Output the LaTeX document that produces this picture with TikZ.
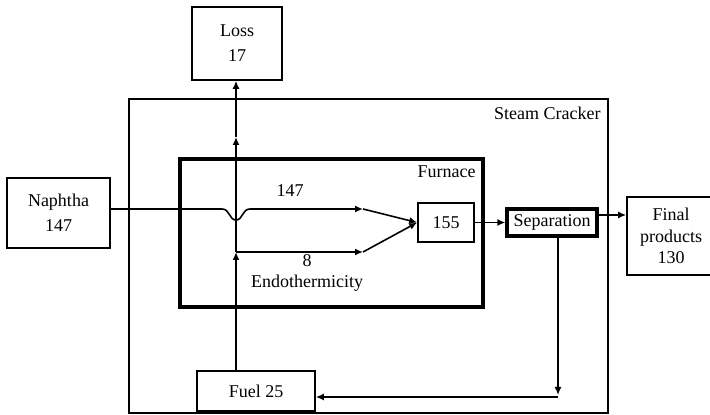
\documentclass[tikz,border=0pt]{standalone}
\usepackage{fontspec}
\setmainfont{Liberation Serif}
\usetikzlibrary{arrows.meta,positioning}

\begin{document}
\begin{tikzpicture}[
    x=0.5pt, y=-0.5pt,
    >={Latex[length=4pt,width=3.5pt]},
    box/.style={draw, line width=0.8pt, align=center, inner sep=0pt, font=\fontsize{9}{12.5}\selectfont},
    heavybox/.style={box, line width=1.6pt},
    flow/.style={draw, line width=0.8pt},
    tag/.style={font=\fontsize{9}{10.5}\selectfont, inner sep=0pt, align=center},
]
\useasboundingbox (0,0) rectangle (710,415);

% Frames
\draw[line width=0.8pt] (129,99) rectangle (608,413);
\draw[line width=1.6pt] (180,159) rectangle (483,307);
\node[tag, anchor=east] (sclabel) at (601,113) {Steam Cracker};
\node[tag, anchor=east] (fulabel) at (476,172) {Furnace};

% Blocks
\node[box, minimum width=45pt, minimum height=36.5pt] (loss) at (237,43.5) {Loss\\17};
\node[box, minimum width=51.5pt, minimum height=35pt] (naph) at (58.5,213) {Naphtha\\147};
\node[box, minimum width=28pt, minimum height=19.5pt] (mix) at (446,222.5) {155};
\node[heavybox, minimum width=45pt, minimum height=13.5pt] (sep) at (552,222.5) {Separation};
\node[box, minimum width=44pt, minimum height=39pt, font=\fontsize{9}{10.75}\selectfont, text width=40pt] (final) at (671,236) {Final\\products\\130};
\node[box, minimum width=59pt, minimum height=20pt] (fuel) at (256,391) {Fuel 25};

% Points
\coordinate (jct) at (236,252);
\coordinate (mid) at (236,137);
\coordinate (n1) at (363,209);
\coordinate (e1) at (363,252);
\coordinate (drop) at (558,395);
\coordinate (back) at (558,397);

% Flows
\draw[flow, ->] (naph.east |- 0,209) -- (222,209) .. controls (230,209) and (229,220) .. (236,220)
    .. controls (243,220) and (242,209) .. (250,209) -- (n1);
\draw[flow, ->] (jct) -- (e1);
\draw[flow, ->] (n1) -- (mix.west);
\draw[flow, ->] (e1) -- (mix.west);
\draw[flow, ->] (fuel.north -| jct) -- (jct);
\draw[flow, ->] (jct) -- (mid);
\draw[flow, ->] (mid) -- (loss.south -| mid);
\draw[flow, ->] (mix) -- (sep);
\draw[flow, ->] (sep.east |- 0,215) -- (final.west |- 0,215);
\draw[flow, ->] (sep.south -| drop) -- (drop);
\draw[flow, ->] (back) -- (fuel.east |- back);

% Labels
\node[tag] (l147) at (290,191) {147};
\node[tag] (l8) at (307,273) {8\\Endothermicity};

\end{tikzpicture}
\end{document}
